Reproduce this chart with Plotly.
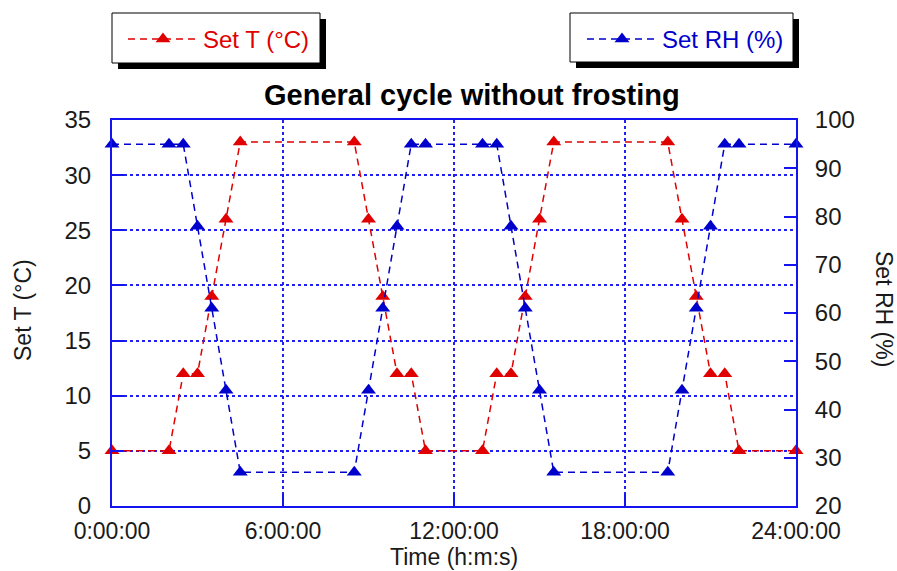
import plotly.graph_objects as go

# ---------------- data ----------------
time_h = [0, 2, 2.5, 3, 3.5, 4, 4.5, 8.5, 9, 9.5, 10, 10.5, 11,
          13, 13.5, 14, 14.5, 15, 15.5, 19.5, 20, 20.5, 21, 21.5, 22, 24]
set_t = [5, 5, 12, 12, 19, 26, 33, 33, 26, 19, 12, 12, 5,
         5, 12, 12, 19, 26, 33, 33, 26, 19, 12, 12, 5, 5]
set_rh = [95, 95, 95, 78, 61, 44, 27, 27, 44, 61, 78, 95, 95,
          95, 95, 78, 61, 44, 27, 27, 44, 61, 78, 95, 95, 95]
x_tickvals = [0, 6, 12, 18, 24]
x_ticktext = ["0:00:00", "6:00:00", "12:00:00", "18:00:00", "24:00:00"]

# ---------------- layout constants ----------------
W, H = 897, 571
L, R, T, B = 112, 796, 120, 506
RED = "#E00000"
BLUE = "#0000CC"
AXC = "#1414EE"
GRID = "#2020F0"
FONT = "Arial, Liberation Sans, sans-serif"
TXT = "#1a1a1a"


def px(x):
    return (x - L) / (R - L)


def py(y):
    return (B - y) / (B - T)


fig = go.Figure()
fig.add_trace(go.Scatter(
    x=time_h, y=set_t, name="Set T (°C)", mode="lines+markers",
    line=dict(color=RED, width=1.5, dash="7px,5px"),
    marker=dict(symbol="triangle-up", size=13, color=RED),
    cliponaxis=False, legend="legend"))
fig.add_trace(go.Scatter(
    x=time_h, y=set_rh, name="Set RH (%)", mode="lines+markers",
    line=dict(color=BLUE, width=1.5, dash="7px,5px"),
    marker=dict(symbol="triangle-up", size=13, color=BLUE),
    cliponaxis=False, yaxis="y2", legend="legend2"))

shapes = []
for (x0, y0, x1, y1) in [(112, 13, 320, 63), (570, 13, 793, 62)]:
    # drop shadow
    shapes.append(dict(type="rect", xref="paper", yref="paper",
                       x0=px(x0 + 6), x1=px(x1 + 6), y0=py(y0 + 6), y1=py(y1 + 6),
                       fillcolor="black", line=dict(width=0), layer="above"))
    shapes.append(dict(type="rect", xref="paper", yref="paper",
                       x0=px(x0), x1=px(x1), y0=py(y0), y1=py(y1),
                       fillcolor="white", line=dict(color="black", width=1), layer="above"))

annotations = [
    dict(text="<b>General cycle without frosting</b>", xref="paper", yref="paper",
         x=px(472), y=py(95), showarrow=False, xanchor="center", yanchor="middle",
         font=dict(size=29, color="black", family=FONT)),
    dict(text="Time (h:m:s)", xref="paper", yref="paper",
         x=px(454), y=py(557), showarrow=False, xanchor="center", yanchor="middle",
         font=dict(size=23, color=TXT, family=FONT)),
    dict(text="Set T (°C)", xref="paper", yref="paper", textangle=-90,
         x=px(23), y=py(310), showarrow=False, xanchor="center", yanchor="middle",
         font=dict(size=23, color=TXT, family=FONT)),
    dict(text="Set RH (%)", xref="paper", yref="paper", textangle=90,
         x=px(884), y=py(309), showarrow=False, xanchor="center", yanchor="middle",
         font=dict(size=23, color=TXT, family=FONT)),
]

leg_common = dict(bgcolor="rgba(0,0,0,0)", borderwidth=0, itemwidth=70,
                  xanchor="left", yanchor="top", xref="paper", yref="paper")

fig.update_layout(
    width=W, height=H,
    margin=dict(l=L, r=W - R, t=T, b=H - B, pad=0),
    paper_bgcolor="white", plot_bgcolor="white",
    font=dict(family=FONT, size=24, color=TXT),
    showlegend=True,
    legend=dict(x=px(123), y=py(17), font=dict(size=24, color=RED, family=FONT), **leg_common),
    legend2=dict(x=px(582), y=py(17), font=dict(size=24, color=BLUE, family=FONT), **leg_common),
    shapes=shapes,
    annotations=annotations,
    xaxis=dict(range=[0, 24], tickvals=x_tickvals, ticktext=x_ticktext,
               showline=True, linecolor=AXC, linewidth=2, mirror=True,
               ticks="inside", ticklen=12, tickcolor=AXC, tickwidth=2,
               showgrid=True, gridcolor=GRID, gridwidth=1.6, griddash="3px,3px",
               zeroline=False, ticklabelstandoff=3,
               tickfont=dict(size=23, color=TXT, family=FONT)),
    yaxis=dict(range=[0, 35], dtick=5, tick0=0,
               showline=True, linecolor=AXC, linewidth=2,
               ticks="inside", ticklen=12, tickcolor=AXC, tickwidth=2,
               showgrid=True, gridcolor=GRID, gridwidth=1.6, griddash="3px,3px",
               zeroline=False, ticklabelstandoff=14,
               tickfont=dict(size=24, color=TXT, family=FONT)),
    yaxis2=dict(range=[20, 100], dtick=10, tick0=20, overlaying="y", side="right",
                showline=True, linecolor=AXC, linewidth=2,
                ticks="inside", ticklen=12, tickcolor=AXC, tickwidth=2,
                showgrid=False, zeroline=False, ticklabelstandoff=12,
                tickfont=dict(size=24, color=TXT, family=FONT)),
)

fig.write_html("out.html")
